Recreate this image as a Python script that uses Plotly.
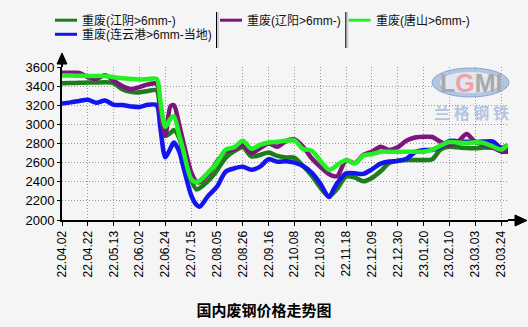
import plotly.graph_objects as go

# Trading-day index of each sample (day 0 = 2022-04-02)
day_index = [0, 5, 10, 15, 20, 25, 30, 35, 40, 45, 50, 55,
             57, 60, 63, 65, 68, 70,
             75, 78, 80,
             85, 90, 95, 100, 105, 110, 115, 120, 125, 130, 135, 140, 145, 150, 155,
             158,
             160, 165, 170, 175, 180, 185, 190, 195, 200, 205, 210, 215, 220, 225,
             230, 235, 240, 245, 250, 255,
             259]

# Tick positions (every 15 trading days) and their date labels
tick_days = list(range(0, 256, 15))
tick_labels = ["22.04.02", "22.04.22", "22.05.13", "22.06.02", "22.06.24", "22.07.15",
               "22.08.05", "22.08.26", "22.09.16", "22.10.08", "22.10.28", "22.11.18",
               "22.12.09", "22.12.30", "23.01.20", "23.02.10", "23.03.03", "23.03.24"]

# Prices (yuan/ton)
jiangyin = [3430, 3432, 3435, 3437, 3438, 3440, 3430, 3368, 3340, 3335, 3350, 3355,
            3140, 2880, 2910, 2940, 2860, 2730,
            2420, 2320, 2335,
            2410, 2520, 2650, 2720, 2760, 2665, 2680, 2705, 2670, 2655, 2650, 2565, 2465, 2340, 2245,
            2290,
            2330, 2455, 2445, 2405, 2440, 2510, 2595, 2620, 2627, 2627, 2627, 2635, 2740, 2765,
            2760, 2752, 2750, 2758, 2755, 2750,
            2784]

lianyungang = [3218, 3230, 3245, 3258, 3225, 3250, 3205, 3202, 3188, 3182, 3205, 3200,
               2980, 2655, 2750, 2810, 2720, 2590,
               2260, 2160, 2140,
               2255, 2348, 2505, 2540, 2558, 2525, 2558, 2635, 2610, 2615, 2600, 2565, 2495, 2380, 2240,
               2330,
               2390, 2488, 2488, 2482, 2530, 2590, 2612, 2618, 2640, 2710, 2732, 2732, 2765, 2828,
               2822, 2818, 2815, 2820, 2822, 2752,
               2740]

liaoyang = [3540, 3540, 3538, 3495, 3475, 3515, 3458, 3400, 3368, 3390, 3418, 3425,
            3160, 2880, 3190, 3200, 3000, 2850,
            2500, 2400, 2395,
            2480, 2610, 2715, 2740, 2784, 2700, 2750, 2800, 2766, 2825, 2842, 2766, 2645, 2555, 2480,
            2458,
            2460, 2625, 2595, 2680, 2714, 2766, 2732, 2760, 2830, 2862, 2870, 2868, 2815, 2784,
            2820, 2900, 2815, 2790, 2760, 2716,
            2714]

tangshan = [3510, 3510, 3508, 3507, 3506, 3505, 3492, 3482, 3475, 3470, 3475, 3475,
            3260, 2975, 3060, 3085, 2890, 2760,
            2430, 2395, 2410,
            2500, 2600, 2735, 2760, 2830, 2745, 2785, 2810, 2819, 2828, 2832, 2742, 2725, 2620, 2525,
            2550,
            2580, 2625, 2590, 2675, 2690, 2714, 2714, 2714, 2714, 2714, 2714, 2735, 2780, 2815,
            2810, 2805, 2812, 2805, 2770, 2738,
            2784]

series = [
    ("重废(江阴>6mm-)", jiangyin, "#1b7d1b"),
    ("重废(连云港>6mm-当地)", lianyungang, "#1414ee"),
    ("重废(辽阳>6mm-)", liaoyang, "#7e147e"),
    ("重废(唐山>6mm-)", tangshan, "#22f022"),
]

W, H = 528, 327
ML, MR, MT, MB = 62, 20, 67, 107
PW, PH = W - ML - MR, H - MT - MB


def px_x(p):
    return (p - ML) / PW


def px_y(p):
    return (H - MB - p) / PH


fig = go.Figure()
for name, values, color in series:
    fig.add_trace(go.Scatter(
        x=day_index, y=values, name=name, mode="lines",
        line=dict(color=color, width=4.5, shape="spline", smoothing=0.8),
        showlegend=False,
    ))

shapes = []
annotations = []

# axis arrows
shapes.append(dict(type="line", xref="paper", yref="paper",
                   x0=0, x1=0, y0=1, y1=px_y(63), line=dict(color="black", width=2)))
shapes.append(dict(type="path", xref="paper", yref="paper",
                   path=f"M{px_x(57)},{px_y(64)} L{px_x(67)},{px_y(64)} L{px_x(62)},{px_y(53)} Z",
                   fillcolor="black", line=dict(color="black", width=1)))
shapes.append(dict(type="line", xref="paper", yref="paper",
                   x0=1, x1=px_x(516), y0=0, y1=0, line=dict(color="black", width=2)))
shapes.append(dict(type="path", xref="paper", yref="paper",
                   path=f"M{px_x(515)},{px_y(215)} L{px_x(515)},{px_y(226)} L{px_x(527)},{px_y(220.5)} Z",
                   fillcolor="black", line=dict(color="black", width=1)))

# legend: line samples, labels and separators
legend_items = [
    (series[0], 55, 20.2),
    (series[1], 55, 34.3),
    (series[2], 220, 20.2),
    (series[3], 348.5, 20.2),
]
for (name, _, color), lx, ly in legend_items:
    shapes.append(dict(type="line", xref="paper", yref="paper",
                       x0=px_x(lx), x1=px_x(lx + 22), y0=px_y(ly), y1=px_y(ly),
                       line=dict(color=color, width=3)))
    annotations.append(dict(xref="paper", yref="paper", x=px_x(lx + 25), y=px_y(ly),
                            text=name, showarrow=False, xanchor="left", yanchor="middle",
                            font=dict(size=12, color="#111111",
                                      family="Liberation Sans, Noto Sans CJK SC")))
for sx in (216.5, 345.8):
    shapes.append(dict(type="line", xref="paper", yref="paper",
                       x0=px_x(sx + 1.5), x1=px_x(sx + 1.5), y0=px_y(12), y1=px_y(48),
                       line=dict(color="#cfcfcf", width=2)))
    shapes.append(dict(type="line", xref="paper", yref="paper",
                       x0=px_x(sx), x1=px_x(sx), y0=px_y(12), y1=px_y(48),
                       line=dict(color="black", width=1)))

# LGMI watermark
shapes.append(dict(type="circle", xref="paper", yref="paper", layer="above",
                   x0=px_x(432), x1=px_x(509), y0=px_y(97), y1=px_y(68),
                   fillcolor="rgba(150,178,218,0.7)", line=dict(color="rgba(120,150,200,0.75)", width=1)))
shapes.append(dict(type="circle", xref="paper", yref="paper", layer="above",
                   x0=px_x(440), x1=px_x(501), y0=px_y(93), y1=px_y(72),
                   fillcolor="rgba(232,236,244,0.85)", line=dict(width=0)))
annotations.append(dict(xref="paper", yref="paper", x=px_x(471), y=px_y(83),
                        text="L<span style='color:#f0a0a0'>G</span>MI", showarrow=False,
                        xanchor="center", yanchor="middle",
                        font=dict(size=25, color="#a9a9a9", family="Liberation Sans", weight="bold")))
annotations.append(dict(xref="paper", yref="paper", x=px_x(471.5), y=px_y(112),
                        text="兰 格 钢 铁", showarrow=False, xanchor="center", yanchor="middle",
                        font=dict(size=16, color="rgba(150,176,214,0.7)",
                                  family="Noto Sans CJK SC", weight="bold")))

fig.update_layout(
    width=W, height=H,
    margin=dict(l=ML, r=MR, t=MT, b=MB),
    paper_bgcolor="#f5f5f5",
    plot_bgcolor="#f5f5f5",
    font=dict(family="Liberation Sans, Noto Sans CJK SC", size=12, color="black"),
    title=dict(text="国内废钢价格走势图", x=0.5, xref="container", xanchor="center",
               y=1 - 311 / H, yref="container", yanchor="middle",
               font=dict(size=15, family="Noto Sans CJK SC", weight="bold", color="black")),
    xaxis=dict(range=[0, 259], tickmode="array", tickvals=tick_days, ticktext=tick_labels,
               tickangle=-90, ticks="outside", ticklen=4, tickcolor="black",
               tickfont=dict(size=12, family="Liberation Sans"),
               showline=True, linecolor="black", linewidth=2,
               showgrid=True, gridcolor="#9a9a9a", gridwidth=1, griddash="1px,2px",
               zeroline=False, fixedrange=True),
    yaxis=dict(range=[2000, 3600], dtick=200, ticks="outside", ticklen=3, tickcolor="black",
               tickfont=dict(size=13, family="Liberation Sans"),
               showline=True, linecolor="black", linewidth=2,
               showgrid=True, gridcolor="#9a9a9a", gridwidth=1, griddash="1px,2px",
               zeroline=False, fixedrange=True),
    shapes=shapes,
    annotations=annotations,
    showlegend=False,
)

fig.write_html("out.html")
